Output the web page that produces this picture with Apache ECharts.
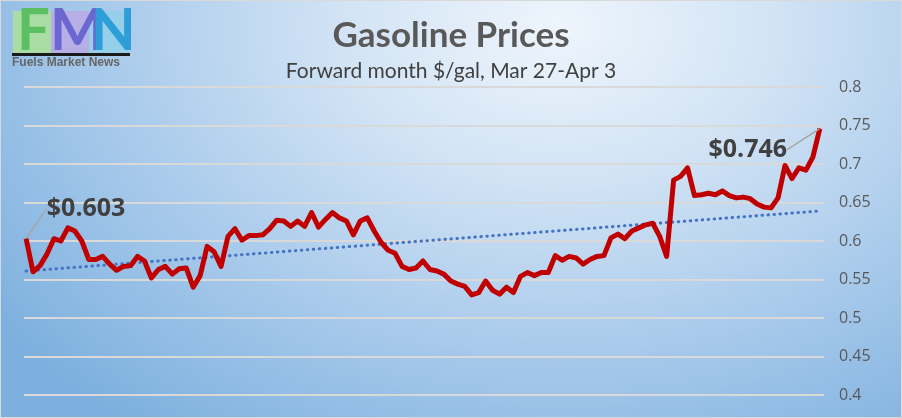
<!DOCTYPE html>
<html>
<head>
<meta charset="utf-8">
<script src="https://cdn.jsdelivr.net/npm/echarts@6/dist/echarts.min.js"></script>
<style>
html,body{margin:0;padding:0;}
#chart{width:902px;height:418px;box-sizing:border-box;border:1px solid #d9d9d9;
background:radial-gradient(ellipse 78% 120% at 62% 6%, #eef5fc 0%, #d3e4f5 30%, #a8caeb 65%, #7db0de 100%);}
</style>
</head>
<body>
<div id="chart"></div>
<script>
// Forward month gasoline price, $/gal
const prices = [
0.603,0.560,0.568,0.583,0.603,0.600,0.617,0.613,0.600,0.576,
0.576,0.580,0.570,0.562,0.567,0.568,0.580,0.574,0.552,0.563,
0.567,0.557,0.564,0.565,0.540,0.555,0.593,0.586,0.567,0.606,
0.616,0.601,0.607,0.607,0.608,0.616,0.627,0.626,0.619,0.626,
0.619,0.637,0.618,0.628,0.637,0.630,0.626,0.608,0.626,0.630,
0.613,0.598,0.588,0.584,0.567,0.563,0.565,0.574,0.563,0.561,
0.557,0.548,0.544,0.541,0.530,0.533,0.548,0.536,0.531,0.540,
0.533,0.554,0.559,0.555,0.559,0.559,0.581,0.575,0.580,0.578,
0.570,0.576,0.580,0.581,0.604,0.609,0.603,0.613,0.617,0.621,
0.623,0.606,0.580,0.679,0.684,0.695,0.659,0.660,0.662,0.660,
0.665,0.659,0.656,0.657,0.655,0.648,0.644,0.643,0.656,0.698,
0.681,0.695,0.692,0.709,0.746
];
// Trendline end values
const trendValues = [0.561, 0.639];
// Y axis ticks
const yTicks = [0.4, 0.45, 0.5, 0.55, 0.6, 0.65, 0.7, 0.75, 0.8];

const titleText = 'Gasoline Prices';
const subtitleText = 'Forward month $/gal, Mar 27-Apr 3';

const lastIdx = prices.length - 1;
const lineData = prices.map((v, i) => {
  const item = { value: [i, v] };
  if (i === 0 || i === lastIdx) {
    item.label = { show: true };
  }
  return item;
});
const trendData = [[0, trendValues[0]], [lastIdx, trendValues[1]]];

const chart = echarts.init(document.getElementById('chart'));
chart.setOption({
  backgroundColor: 'transparent',
  animation: false,
  title: {
    text: titleText,
    subtext: subtitleText,
    left: 'center',
    top: 12,
    itemGap: 8,
    textStyle: { fontFamily: 'Lato', fontWeight: 'bold', fontSize: 35, color: '#595959' },
    subtextStyle: { fontFamily: 'Lato', fontSize: 21, color: '#404040' }
  },
  grid: { left: 23, right: 77, top: 86, bottom: 22 },
  xAxis: {
    type: 'value', min: -0.3, max: lastIdx + 0.6,
    show: false
  },
  yAxis: {
    type: 'value', position: 'right',
    min: yTicks[0], max: yTicks[yTicks.length - 1], interval: 0.05,
    axisLine: { show: false }, axisTick: { show: false },
    axisLabel: {
      margin: 15, fontFamily: 'Open Sans', fontSize: 16, color: '#595959',
      formatter: v => String(+v.toFixed(2))
    },
    splitLine: { lineStyle: { color: '#d9d9d9', width: 2 } }
  },
  series: [
    {
      type: 'line',
      data: trendData,
      symbol: 'none',
      lineStyle: { color: '#4472c4', width: 3, type: [0.5, 5.5], cap: 'round' },
      z: 2
    },
    {
      type: 'line',
      data: lineData,
      symbol: 'circle', symbolSize: 1, showSymbol: true, showAllSymbol: true,
      itemStyle: { color: '#c00000' },
      lineStyle: { color: '#c00000', width: 5, join: 'round' },
      label: {
        position: 'top',
        fontFamily: 'Open Sans', fontWeight: 'bold', fontSize: 25, color: '#404040',
        formatter: p => '$' + p.value[1].toFixed(3)
      },
      labelLine: { show: true, lineStyle: { color: '#a6a6a6', width: 1.5 } },
      labelLayout: p => p.dataIndex === 0 ? { dx: 60, dy: -12 } : { dx: -72, dy: 39 },
      z: 3
    }
  ],
  graphic: [
    { type: 'rect', left: 12, top: 10, shape: { width: 38, height: 42 }, style: { fill: '#a9dda3' } },
    { type: 'rect', left: 50, top: 10, shape: { width: 38, height: 42 }, style: { fill: '#b7aee6' } },
    { type: 'rect', left: 88, top: 10, shape: { width: 40, height: 42 }, style: { fill: '#95cfea' } },
    { type: 'text', left: 16, top: 1, style: { text: 'F', font: 'bold 58px Lato', fill: '#5cbf62' } },
    { type: 'text', left: 49, top: 1, style: { text: 'M', font: 'bold 58px Lato', fill: '#6c66d1' } },
    { type: 'text', left: 90, top: 1, style: { text: 'N', font: 'bold 58px Lato', fill: '#2e9ed8' } },
    { type: 'rect', left: 11, top: 52, shape: { width: 118, height: 3 }, style: { fill: '#1a1a1a' } },
    { type: 'text', left: 11, top: 56, style: { text: 'Fuels Market News', font: 'bold 12px "Liberation Sans Narrow", "Liberation Sans"', fill: '#666666' } }
  ]
});
</script>
</body>
</html>
